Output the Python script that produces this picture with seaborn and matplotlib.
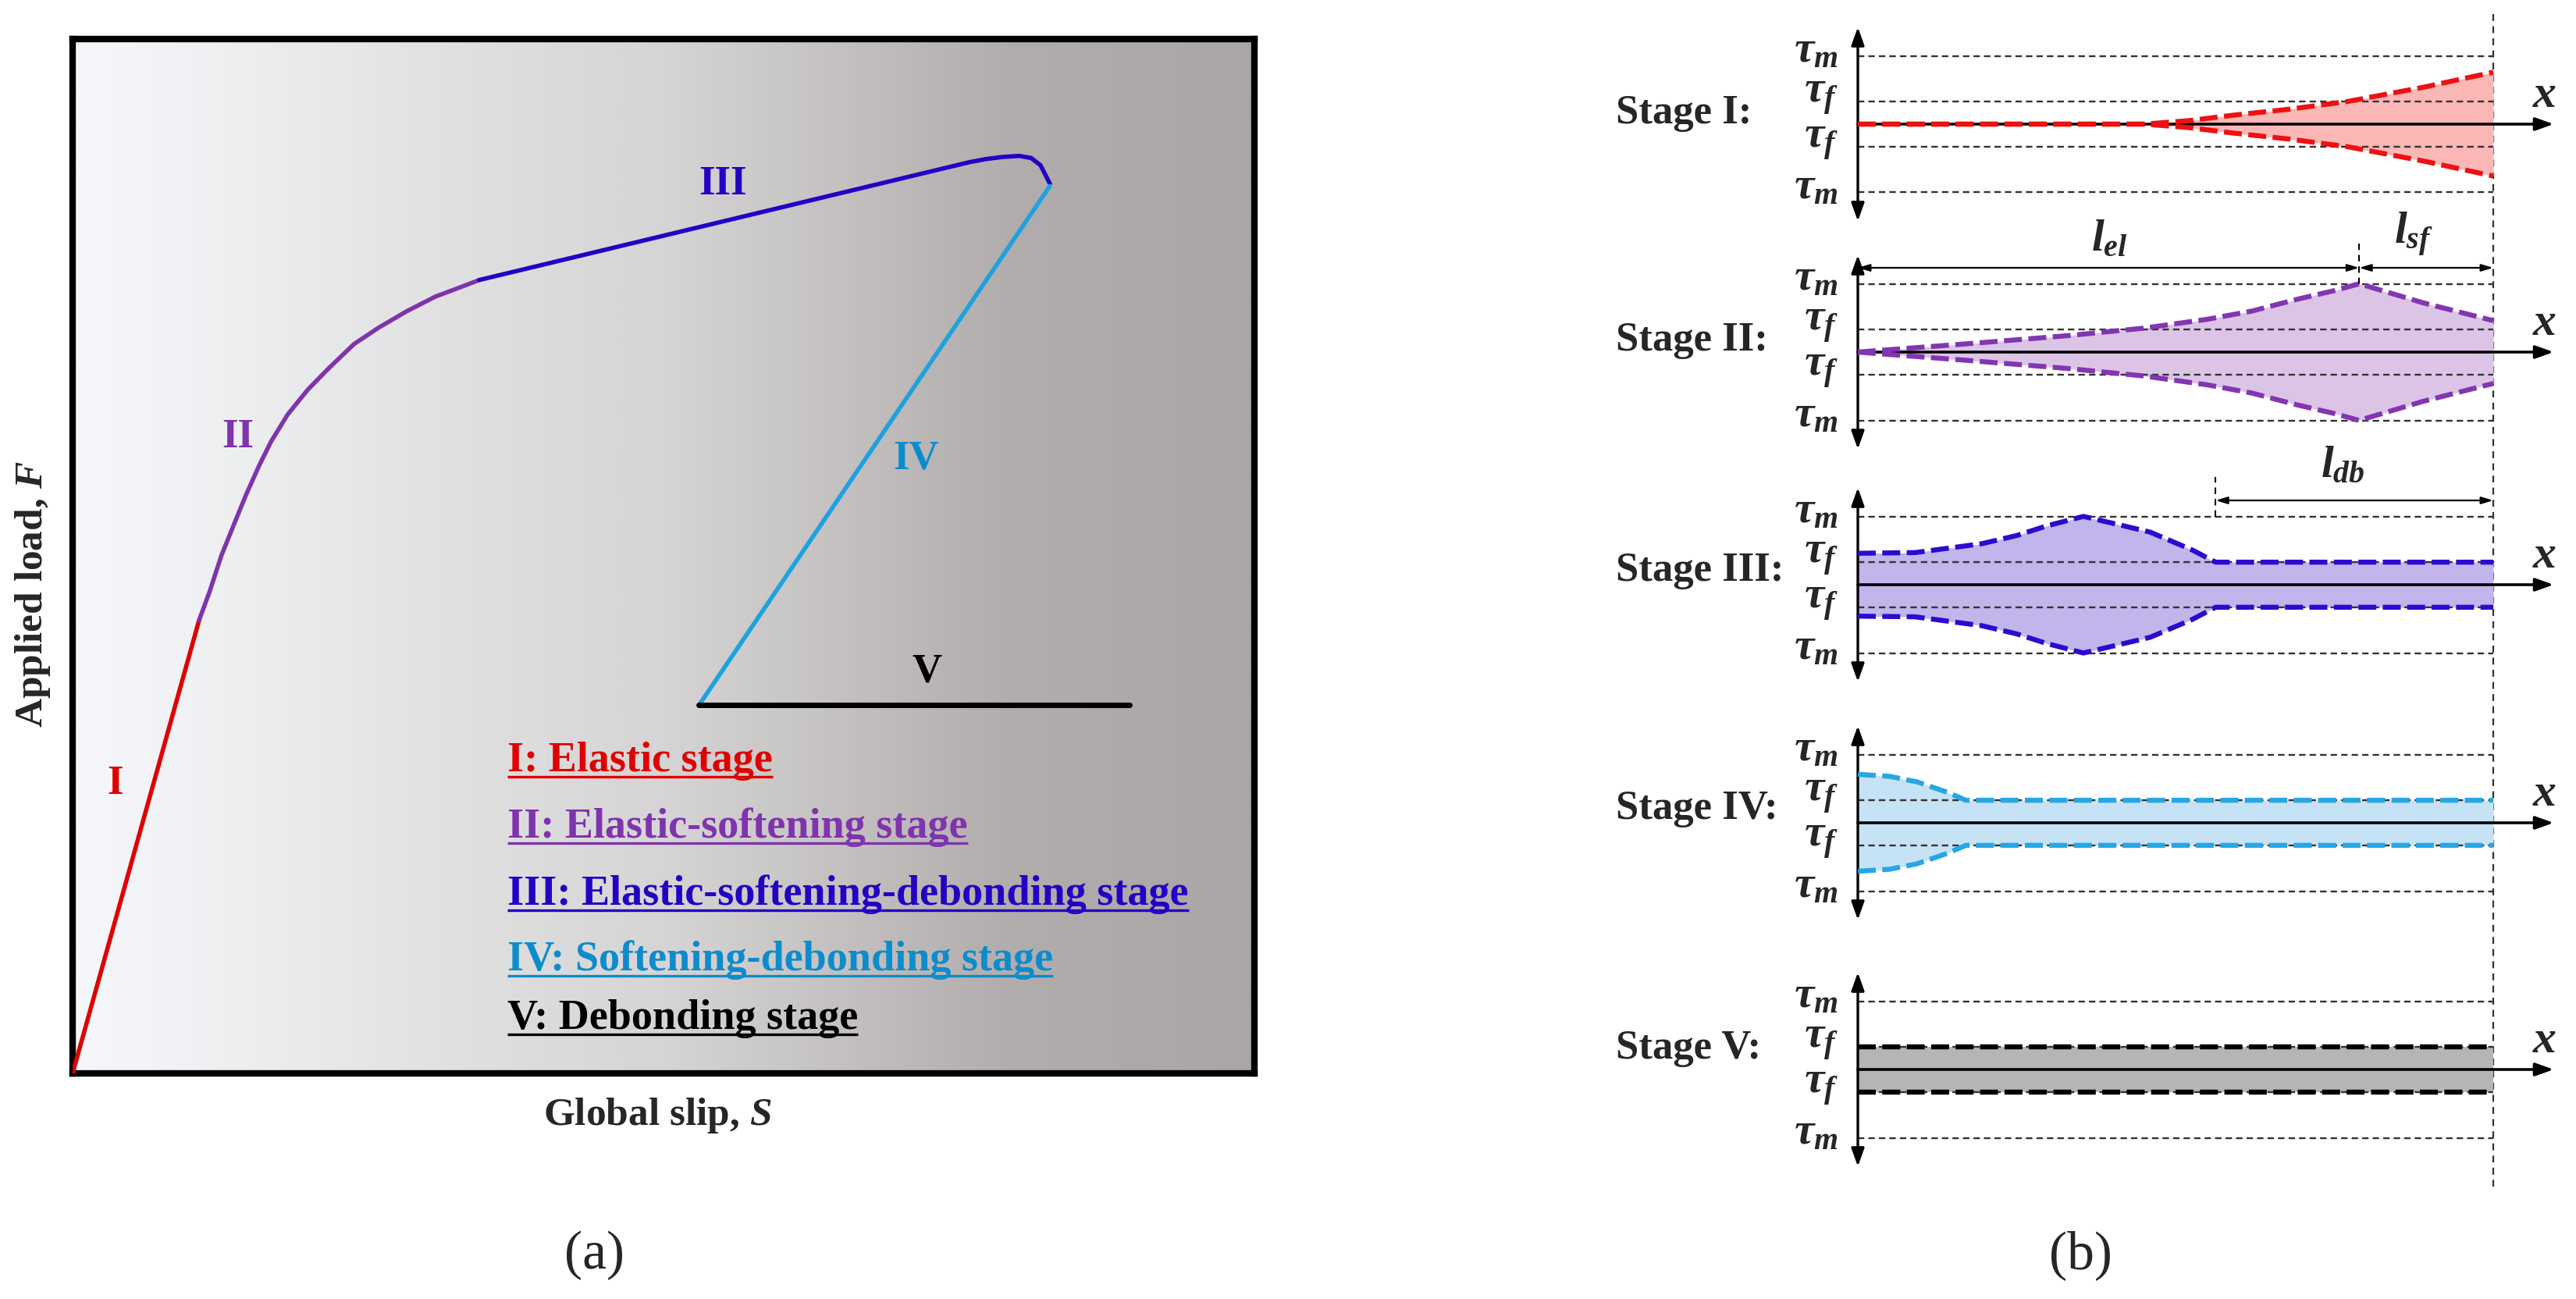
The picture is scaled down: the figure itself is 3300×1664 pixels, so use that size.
import numpy as np
import seaborn as sns
import matplotlib.pyplot as plt
from matplotlib.colors import LinearSegmentedColormap
from matplotlib.lines import Line2D

sns.set_style("white")
plt.rcParams['font.family'] = ['Liberation Serif', 'DejaVu Serif']
plt.rcParams['font.weight'] = 'bold'
plt.rcParams['mathtext.fontset'] = 'custom'
plt.rcParams['mathtext.it'] = 'Liberation Serif:italic:bold'
plt.rcParams['mathtext.rm'] = 'Liberation Serif:bold'
plt.rcParams['mathtext.bf'] = 'Liberation Serif:bold'

# ---- (a) load-slip curve, in box-normalised units ----
slip_I = [0.0, 0.107]
load_I = [0.0, 0.438]
slip_II = [0.107, 0.116, 0.126, 0.137, 0.147, 0.158, 0.168, 0.182, 0.199, 0.217,
           0.238, 0.259, 0.283, 0.307, 0.328, 0.344]
load_II = [0.438, 0.466, 0.501, 0.532, 0.560, 0.588, 0.611, 0.637, 0.661, 0.682,
           0.705, 0.721, 0.737, 0.751, 0.760, 0.767]
slip_III = [0.344, 0.759, 0.773, 0.787, 0.801, 0.811, 0.819, 0.823, 0.827]
load_III = [0.767, 0.881, 0.884, 0.886, 0.887, 0.885, 0.878, 0.869, 0.860]
slip_IV = [0.827, 0.530]
load_IV = [0.858, 0.356]
slip_V = [0.530, 0.894]
load_V = [0.356, 0.356]

stage_names = ["I", "II", "III", "IV", "V"]
curve_label_pos = [(0.036, 0.281), (0.140, 0.616), (0.550, 0.860), (0.714, 0.595), (0.723, 0.389)]
legend_labels = ["I: Elastic stage", "II: Elastic-softening stage",
                 "III: Elastic-softening-debonding stage",
                 "IV: Softening-debonding stage", "V: Debonding stage"]
legend_y = [0.293, 0.229, 0.164, 0.100, 0.044]

line_colors = ["#e00000", "#7f33ad", "#2300c4", "#1ea2df", "#000000"]
text_colors = ["#e00000", "#7f33ad", "#2300c4", "#0c8ccc", "#000000"]

# ---- (b) shear stress envelopes (tau_m = 1) ----
tau_m = 1.0
tau_f = 0.33
s1_x = [0, 0.45, 0.52, 0.59, 0.68, 0.77, 0.89, 1.0]
s1_tau = [0, 0, 0.05, 0.13, 0.22, 0.33, 0.54, 0.76]
s2_x = [0, 0.17, 0.33, 0.45, 0.55, 0.62, 0.69, 0.75, 0.789, 0.89, 1.0]
s2_tau = [0, 0.12, 0.24, 0.35, 0.48, 0.60, 0.77, 0.90, 1.0, 0.72, 0.46]
s3_x = [0, 0.09, 0.195, 0.25, 0.297, 0.355, 0.41, 0.46, 0.526, 0.563, 1.0]
s3_tau = [0.46, 0.47, 0.60, 0.72, 0.86, 1.0, 0.88, 0.77, 0.51, 0.33, 0.33]
s4_x = [0, 0.05, 0.093, 0.14, 0.17, 1.0]
s4_tau = [0.71, 0.68, 0.60, 0.45, 0.33, 0.33]
s5_x = [0, 1.0]
s5_tau = [0.33, 0.33]

l_sf_start = 0.789
l_db_start = 0.563

env_colors = ["#ee1111", "#8236b0", "#2a0bd0", "#27a6e4", "#000000"]
fill_colors = ["#fbb6b6", "#dcc4e6", "#c1b5ec", "#c6e3f5", "#b5b5b5"]

W, H = 3300, 1665
fig = plt.figure(figsize=(33, 16.65), dpi=100)

# ---------------- panel (a) ----------------
axL = fig.add_axes([93 / W, 1 - 1376 / H, (1607 - 93) / W, (1376 - 51) / H])
bg_cmap = LinearSegmentedColormap.from_list(
    "bg", [(0.0, "#f5f7fb"), (0.12, "#eef0f2"), (0.3, "#e2e2e3"), (0.5, "#d6d4d4"),
           (0.62, "#c8c5c5"), (0.72, "#bbb7b6"), (0.8, "#b1adac"), (1.0, "#aaa6a5")])
axL.imshow(np.linspace(0, 1, 600).reshape(1, -1), cmap=bg_cmap, extent=[0, 1, 0, 1],
           aspect="auto", zorder=0)
axL.set_xlim(0, 1)
axL.set_ylim(0, 1)
axL.set_xticks([])
axL.set_yticks([])
for sp in axL.spines.values():
    sp.set_visible(True)
    sp.set_linewidth(6)
    sp.set_color("black")

curves = [(slip_I, load_I), (slip_II, load_II), (slip_III, load_III),
          (slip_IV, load_IV), (slip_V, load_V)]
for i, (xs, ys) in enumerate(curves):
    sns.lineplot(x=xs, y=ys, ax=axL, color=line_colors[i], lw=5 if i == 4 else 4,
                 estimator=None, sort=False, zorder=3)
    axL.text(curve_label_pos[i][0], curve_label_pos[i][1], stage_names[i],
             color=text_colors[i], fontsize=38, ha="center", va="center", zorder=4)

leg_texts = []
for i, lab in enumerate(legend_labels):
    t = axL.text(0.368, legend_y[i], lab, color=text_colors[i], fontsize=39,
                 ha="left", va="baseline", zorder=4)
    leg_texts.append(t)

axL.text(-0.034, 0.464, "Applied load, $F$", rotation=90, fontsize=37,
         ha="center", va="center", clip_on=False)
axL.text(0.495, -0.04, "Global slip, $S$", fontsize=37, ha="center", va="center",
         clip_on=False)
fig.text(762 / W, 1 - 1608 / H, "(a)", fontsize=50, weight="normal", ha="center", va="center")

# ---------------- panel (b) ----------------
centers = [160, 452, 750, 1055, 1371]
unit = 87.5
x0_px, x1_px = 2380, 3194
span = x1_px - x0_px
half = 1.6
env_x = [s1_x, s2_x, s3_x, s4_x, s5_x]
env_tau = [s1_tau, s2_tau, s3_tau, s4_tau, s5_tau]
stage_offsets = [0.17, 0.18, 0.22, 0.22, 0.32]
ref_dash = (0, (3.5, 2.2))
env_dash = (0, (3.6, 1.3))

axes_r = []
for i, yc in enumerate(centers):
    ax = fig.add_axes([x0_px / W, 1 - (yc + half * unit) / H, (W - x0_px) / W, 2 * half * unit / H])
    ax.set_xlim(0, (W - x0_px) / span)
    ax.set_ylim(-half, half)
    ax.axis("off")
    axes_r.append(ax)

    xs = np.array(env_x[i])
    ts = np.array(env_tau[i])
    ax.fill_between(xs, -ts, ts, color=fill_colors[i], lw=0, zorder=1)
    ax.hlines([tau_m, tau_f, -tau_f, -tau_m], 0, 1, color="#333333", lw=1.7,
              linestyles=[ref_dash], zorder=2)
    ax.annotate("", xy=(1.095, 0), xytext=(0, 0),
                arrowprops=dict(arrowstyle="-|>,head_length=0.7,head_width=0.25", lw=2.6,
                                color="black", shrinkA=0, shrinkB=0, mutation_scale=20),
                zorder=3)
    ax.annotate("", xy=(0, 1.42), xytext=(0, -1.42),
                arrowprops=dict(arrowstyle="<|-|>,head_length=0.7,head_width=0.25", lw=2.4,
                                color="black", shrinkA=0, shrinkB=0, mutation_scale=20),
                zorder=3)
    for sgn in (1, -1):
        sns.lineplot(x=xs, y=sgn * ts, ax=ax, color=env_colors[i], lw=4.6,
                     linestyle=env_dash, estimator=None, sort=False, zorder=4)

    ax.text(-0.381, stage_offsets[i], "Stage %s:" % stage_names[i], fontsize=38,
            ha="left", va="center", clip_on=False)
    for lev, lab in [(tau_m, r"$\tau_m$"), (tau_f, r"$\tau_f$"),
                     (-tau_f, r"$\tau_f$"), (-tau_m, r"$\tau_m$")]:
        ax.text(-0.031, lev + 0.08, lab, fontsize=41, ha="right", va="center", clip_on=False)
    ax.text(1.081, 0.42, r"$x$", fontsize=43, ha="center", va="center", clip_on=False)

# dimension lines
ax2 = axes_r[1]
dim_kw = dict(arrowstyle="<|-|>,head_length=0.5,head_width=0.15", lw=1.6, color="black",
              shrinkA=0, shrinkB=0, mutation_scale=18)
ax2.annotate("", xy=(l_sf_start, 1.234), xytext=(0, 1.234), arrowprops=dim_kw,
             annotation_clip=False)
ax2.annotate("", xy=(1.0, 1.234), xytext=(l_sf_start, 1.234), arrowprops=dim_kw,
             annotation_clip=False)
ax2.plot([l_sf_start, l_sf_start], [0.99, 1.59], color="black", lw=1.5,
         linestyle=(0, (4, 3)), clip_on=False)
ax2.text(0.396, 1.66, r"$l_{el}$", fontsize=41, ha="center", va="center", clip_on=False)
ax2.text(0.875, 1.73, r"$l_{sf}$", fontsize=41, ha="center", va="center", clip_on=False)

ax3 = axes_r[2]
ax3.annotate("", xy=(1.0, 1.234), xytext=(l_db_start, 1.234), arrowprops=dim_kw,
             annotation_clip=False)
ax3.plot([l_db_start, l_db_start], [1.0, 1.58], color="black", lw=1.5,
         linestyle=(0, (4, 3)), clip_on=False)
ax3.text(0.763, 1.75, r"$l_{db}$", fontsize=41, ha="center", va="center", clip_on=False)

fig.add_artist(Line2D([x1_px / W, x1_px / W], [1 - 19 / H, 1 - 1521 / H],
                      transform=fig.transFigure, color="#333333", lw=1.6,
                      linestyle=(0, (4, 3)), zorder=0))
fig.text(2665 / W, 1 - 1608 / H, "(b)", fontsize=50, weight="normal", ha="center", va="center")

# underline the legend entries of panel (a)
fig.canvas.draw()
rend = fig.canvas.get_renderer()
inv = axL.transAxes.inverted()
for i, t in enumerate(leg_texts):
    bb = t.get_window_extent(renderer=rend)
    (ux0, _), (ux1, _) = inv.transform([(bb.x0, bb.y0), (bb.x1, bb.y0)])
    yb = legend_y[i] - 0.006
    axL.plot([ux0, ux1], [yb, yb], color=text_colors[i], lw=2.4, solid_capstyle="butt",
             zorder=4)

fig.savefig("out.png", dpi=100)
